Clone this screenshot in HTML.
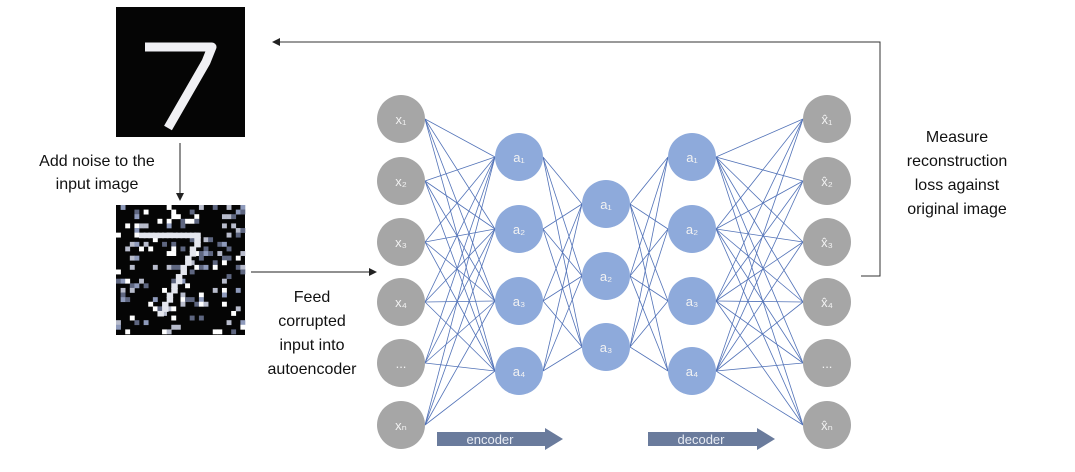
<!DOCTYPE html>
<html><head><meta charset="utf-8"><style>
html,body{margin:0;padding:0;background:#fff;}
svg{display:block;font-family:"Liberation Sans",sans-serif;}
</style></head><body>
<svg id="s" width="1075" height="472" viewBox="0 0 1075 472" xmlns="http://www.w3.org/2000/svg">
<defs>
<marker id="ah" markerWidth="8" markerHeight="8" refX="7" refY="4" orient="auto" markerUnits="userSpaceOnUse"><path d="M0,0 L8,4 L0,8 z" fill="#222"/></marker>
</defs>
<rect x="116" y="7" width="129" height="130" fill="#050505"/>
<polyline points="145,47 212,47 206,62 168,128" fill="none" stroke="#f0f0f4" stroke-width="9" stroke-linejoin="round"/>
<g id="noise"></g>
<g id="edges" stroke="#3f63b0" stroke-width="0.8" opacity="0.9"></g>
<g id="nodes"></g>
<line x1="180" y1="143" x2="180" y2="200" stroke="#222" stroke-width="1" marker-end="url(#ah)"/>
<line x1="251" y1="272" x2="376" y2="272" stroke="#222" stroke-width="1" marker-end="url(#ah)"/>
<polyline points="861,276 880,276 880,42 273,42" fill="none" stroke="#333" stroke-width="1" marker-end="url(#ah)"/>
<g font-size="16" fill="#111" text-anchor="middle">
<text x="97" y="166">Add noise to the</text>
<text x="97" y="189">input image</text>
<text x="312" y="302">Feed</text>
<text x="312" y="326">corrupted</text>
<text x="312" y="350">input into</text>
<text x="312" y="374">autoencoder</text>
<text x="957" y="142">Measure</text>
<text x="957" y="166">reconstruction</text>
<text x="957" y="190">loss against</text>
<text x="957" y="214">original image</text>
</g>
<path d="M437,432 H545 V428 L563,439 L545,450 V446 H437 Z" fill="#6a7b9c"/>
<text x="490" y="444" font-size="13" fill="#e8ecf4" text-anchor="middle">encoder</text>
<path d="M648,432 H757 V428 L775,439 L757,450 V446 H648 Z" fill="#6a7b9c"/>
<text x="701" y="444" font-size="13" fill="#e8ecf4" text-anchor="middle">decoder</text>
</svg>
<script>
var NS="http://www.w3.org/2000/svg";
function el(t,a,p,txt){var e=document.createElementNS(NS,t);for(var k in a)e.setAttribute(k,a[k]);if(txt!=null)e.textContent=txt;document.getElementById(p).appendChild(e);return e;}
var seed=7;function rnd(){seed=(seed*16807)%2147483647;return seed/2147483647;}
el('rect',{x:116,y:205,width:129,height:130,fill:'#050505'},'noise');
var cs=129/28;
for(var i=0;i<28;i++)for(var j=0;j<28;j++){var r=rnd();var c=null;
if(r>0.8){var v=rnd();c=v<0.25?'#ffffff':v<0.5?'#8e9abb':v<0.8?'#5e6680':'#b8bccc';}
if(c)el('rect',{x:116+j*cs,y:205+i*cs,width:cs+0.3,height:cs+0.3,fill:c},'noise');}
var seven=[[5,6],[6,6],[7,6],[8,6],[9,6],[10,6],[11,6],[12,6],[13,6],[14,6],[15,6],[16,6],[17,6],[17,7],[17,8],[16,9],[16,10],[15,11],[15,12],[14,13],[14,14],[13,15],[13,16],[12,17],[12,18],[11,19],[11,20],[10,21],[10,22],[9,23]];
seven.forEach(function(p){el('rect',{x:116+p[0]*cs,y:205+p[1]*cs,width:cs*1.4,height:cs*1.2,fill:'#e4e6ee'},'noise');});
var R=24;
var L=[{x:401,ys:[119,181,242,302,363,425],c:'#a6a6a6'},{x:519,ys:[157,229,301,371],c:'#8eaadb'},{x:606,ys:[204,276,347],c:'#8eaadb'},{x:692,ys:[157,229,301,371],c:'#8eaadb'},{x:827,ys:[119,181,242,302,363,425],c:'#a6a6a6'}];
for(var l=0;l<4;l++){var A=L[l],B=L[l+1];A.ys.forEach(function(y1){B.ys.forEach(function(y2){el('line',{x1:A.x+R,y1:y1,x2:B.x-R,y2:y2},'edges');});});}
var labs=[['x₁','x₂','x₃','x₄','...','xₙ'],['a₁','a₂','a₃','a₄'],['a₁','a₂','a₃'],['a₁','a₂','a₃','a₄'],['x̂₁','x̂₂','x̂₃','x̂₄','...','x̂ₙ']];
L.forEach(function(la,li){la.ys.forEach(function(y,k){el('circle',{cx:la.x,cy:y,r:R,fill:la.c},'nodes');
el('text',{x:la.x,y:y+5,'font-size':13,fill:'#f2f2f2','text-anchor':'middle'},'nodes',labs[li][k]);});});
</script>
</body></html>
